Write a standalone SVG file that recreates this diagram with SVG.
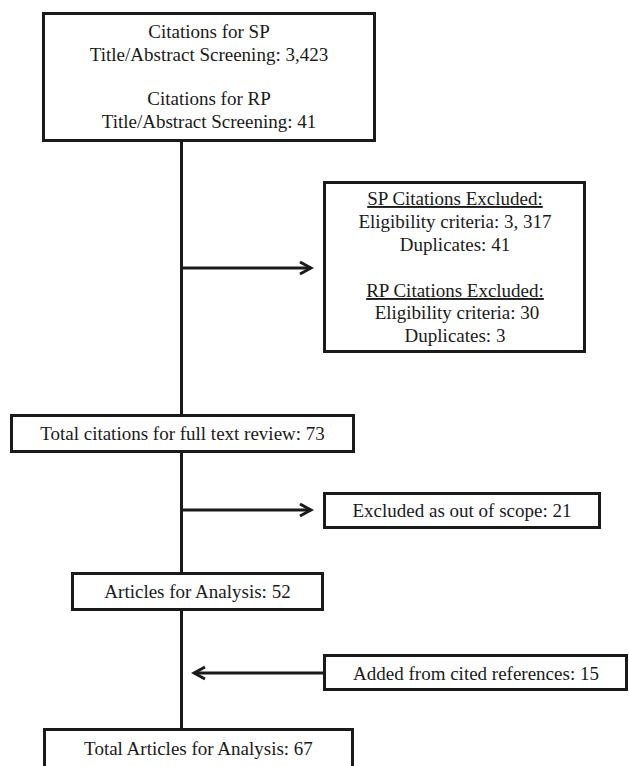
<svg xmlns="http://www.w3.org/2000/svg" width="629" height="766" viewBox="0 0 629 766">
<defs>
<style>
.box{fill:#fff;stroke:#1a1a1a;stroke-width:3}
.t{font-family:"Liberation Serif","Times New Roman",serif;font-size:19px;fill:#1a1a1a;text-anchor:middle}
.c{stroke:#1a1a1a;stroke-width:3;fill:none}
.u{text-decoration:underline}
</style>
<marker id="ah" markerUnits="userSpaceOnUse" markerWidth="16" markerHeight="16" viewBox="0 0 16 16" refX="13" refY="8" orient="auto">
<path d="M2,2 L13,8 L2,14" fill="none" stroke="#1a1a1a" stroke-width="3"/>
</marker>
</defs>
<rect width="629" height="766" fill="#fff"/>
<g id="connectors">
<line class="c" x1="181.5" y1="142" x2="181.5" y2="415"/>
<line class="c" x1="181.5" y1="452" x2="181.5" y2="573"/>
<line class="c" x1="181.5" y1="610" x2="181.5" y2="729"/>
<line class="c" x1="181.5" y1="268" x2="311" y2="268" marker-end="url(#ah)"/>
<line class="c" x1="181.5" y1="510" x2="311" y2="510" marker-end="url(#ah)"/>
<line class="c" x1="324" y1="673" x2="194" y2="673" marker-end="url(#ah)"/>
</g>
<g id="n-citations">
<rect class="box" x="43.5" y="13.5" width="331" height="127"/>
<text class="t" x="209" y="38">Citations for SP</text>
<text class="t" x="209" y="60.5">Title/Abstract Screening: 3,423</text>
<text class="t" x="209" y="105">Citations for RP</text>
<text class="t" x="209" y="127.5">Title/Abstract Screening: 41</text>
</g>
<g id="n-excluded1">
<rect class="box" x="324.5" y="182.5" width="260" height="169"/>
<text class="t u" x="455" y="205">SP Citations Excluded:</text>
<text class="t" x="455" y="228">Eligibility criteria: 3, 317</text>
<text class="t" x="455" y="251">Duplicates: 41</text>
<text class="t u" x="455" y="297">RP Citations Excluded:</text>
<text class="t" x="457" y="319">Eligibility criteria: 30</text>
<text class="t" x="455" y="342">Duplicates: 3</text>
</g>
<g id="n-fulltext">
<rect class="box" x="11.5" y="415.5" width="342" height="36"/>
<text class="t" x="182.5" y="440">Total citations for full text review: 73</text>
</g>
<g id="n-scope">
<rect class="box" x="324.5" y="493.5" width="275" height="34"/>
<text class="t" x="462" y="517">Excluded as out of scope: 21</text>
</g>
<g id="n-articles">
<rect class="box" x="72.5" y="573.5" width="250" height="36"/>
<text class="t" x="197.5" y="598">Articles for Analysis: 52</text>
</g>
<g id="n-added">
<rect class="box" x="324.5" y="655.5" width="302" height="34"/>
<text class="t" x="476" y="680">Added from cited references: 15</text>
</g>
<g id="n-total">
<rect class="box" x="44.5" y="729.5" width="308" height="50"/>
<text class="t" x="198.5" y="755">Total Articles for Analysis: 67</text>
</g>
</svg>
